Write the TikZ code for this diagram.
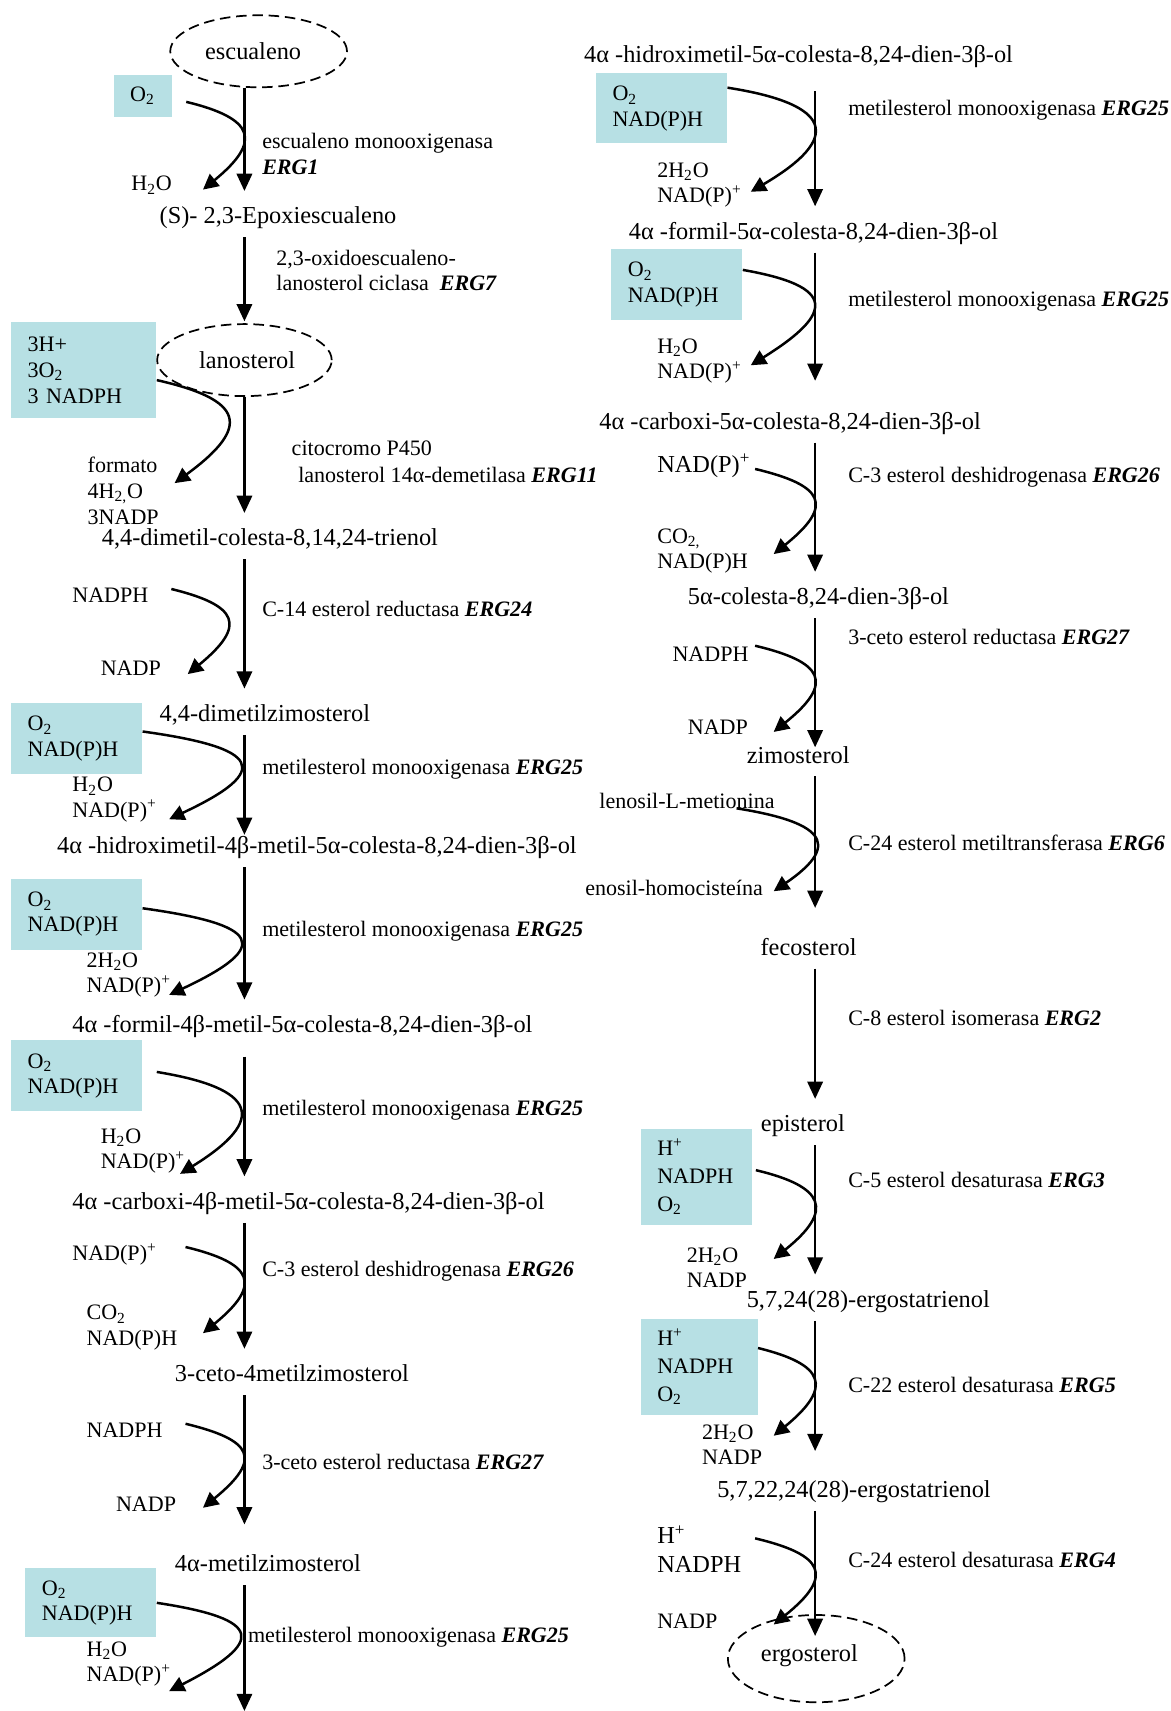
\documentclass[tikz,border=0pt]{standalone}
\usepackage{fontspec}
\setmainfont{Liberation Serif}
\usepackage{tikz}
\usetikzlibrary{shapes,arrows,arrows.meta}
\usetikzlibrary{calc,positioning}
\definecolor{boxteal}{RGB}{183,224,228}
\newcommand{\gene}[1]{\textbf{\textit{#1}}}
\tikzstyle{comp} = [anchor=west, inner xsep=0pt, inner ysep=4pt, yshift=-1.6pt,
    text height=9pt, text depth=2.8pt, font=\fontsize{12.7}{15}\selectfont]
\tikzstyle{term} = [ellipse, draw, dash pattern=on 5.5pt off 3pt, line width=0.9pt,
    inner sep=0pt, font=\fontsize{12.7}{15}\selectfont]
\tikzstyle{enz} = [anchor=west, inner sep=0pt, align=left, font=\fontsize{11.5}{13.2}\selectfont]
\tikzstyle{cof} = [anchor=west, inner sep=0pt, align=left, yshift=-1pt, font=\fontsize{11.5}{13.3}\selectfont]
\tikzstyle{cofbig} = [cof, font=\fontsize{12.7}{15.4}\selectfont]
\tikzstyle{cofbox} = [fill=boxteal, anchor=north west, inner xsep=0.3cm, inner ysep=0pt,
    align=left, font=\fontsize{11.5}{13.2}\selectfont]
\tikzstyle{line} = [draw, line width=1.3pt, -{Triangle[length=9pt,width=8pt]}, shorten >=4pt]
\tikzstyle{side} = [draw, line width=1.3pt, -{Triangle[length=8pt,width=8pt]}]

\begin{document}
\begin{tikzpicture}[x=0.02cm, y=-0.02cm]
        \useasboundingbox (0,0) rectangle (1073,1568);
        \coordinate (axL) at (224,0);
        \coordinate (axR) at (747,0);
        \coordinate (bottom) at (224,1568);
        % Left column
        \node [term, minimum width=3.24cm, minimum height=1.32cm] (esc) at (237,47) {\hspace*{-0.2cm}\raisebox{-0.04cm}{escualeno}};
        \node [cofbox, text width=0.46cm, minimum height=0.78cm] (o2a) at (104,68) {O\textsubscript{2}};
        \node [cof] (h2oa) at (120,168) {H\textsubscript{2}O};
        \node [enz] (erg1) at (240,141) {escualeno monooxigenasa\\\gene{ERG1}};
        \node [comp] (epox) at (146,197) {(S)- 2,3-Epoxiescualeno};
        \node [enz] (erg7) at (253,248) {2,3-oxidoescualeno-\\lanosterol ciclasa~~\gene{ERG7}};
        \node [term, minimum width=3.2cm, minimum height=1.32cm] (lano) at (224,330) {\hspace*{0.1cm}lanosterol};
        \node [cofbox, text width=2.06cm, minimum height=1.76cm, font=\fontsize{11.5}{13.8}\selectfont] (in2) at (10,295) {3H+\\3O\textsubscript{2}\\3 NADPH};
        \node [cof, font=\fontsize{11.5}{13.5}\selectfont] (out2) at (80,448) {formato\\4H\textsubscript{2,}O\\3NADP};
        \node [enz, font=\fontsize{11.5}{14.3}\selectfont] (erg11) at (267,423) {citocromo P450\\\hspace*{0.12cm}lanosterol 14α-demetilasa \gene{ERG11}};
        \node [comp] (trien) at (93,492) {4,4-dimetil-colesta-8,14,24-trienol};
        \node [cof] (in3) at (66,544) {NADPH};
        \node [cof] (out3) at (92,611) {NADP};
        \node [enz] (erg24) at (240,558) {C-14 esterol reductasa \gene{ERG24}};
        \node [comp] (dmz) at (146,653) {4,4-dimetilzimosterol};
        \node [cofbox, text width=1.8cm, minimum height=1.3cm] (in4) at (10,644) {O\textsubscript{2}\\NAD(P)H};
        \node [cof] (out4) at (66,731) {H\textsubscript{2}O\\NAD(P)\textsuperscript{+}};
        \node [enz] (erg25a) at (240,705) {metilesterol monooxigenasa \gene{ERG25}};
        \node [comp] (hm4b) at (52,774) {4α -hidroximetil-4β-metil-5α-colesta-8,24-dien-3β-ol};
        \node [cofbox, text width=1.8cm, minimum height=1.3cm] (in5) at (10,805) {O\textsubscript{2}\\NAD(P)H};
        \node [cof] (out5) at (79,892) {2H\textsubscript{2}O\\NAD(P)\textsuperscript{+}};
        \node [enz] (erg25b) at (240,853) {metilesterol monooxigenasa \gene{ERG25}};
        \node [comp] (fo4b) at (66,938) {4α -formil-4β-metil-5α-colesta-8,24-dien-3β-ol};
        \node [cofbox, text width=1.8cm, minimum height=1.3cm] (in6) at (10,953) {O\textsubscript{2}\\NAD(P)H};
        \node [cof] (out6) at (92,1053) {H\textsubscript{2}O\\NAD(P)\textsuperscript{+}};
        \node [enz] (erg25c) at (240,1017) {metilesterol monooxigenasa \gene{ERG25}};
        \node [comp] (ca4b) at (66,1100) {4α -carboxi-4β-metil-5α-colesta-8,24-dien-3β-ol};
        \node [cof] (in7) at (66,1148) {NAD(P)\textsuperscript{+}};
        \node [cof] (out7) at (79,1215) {CO\textsubscript{2}\\NAD(P)H};
        \node [enz] (erg26a) at (240,1165) {C-3 esterol deshidrogenasa \gene{ERG26}};
        \node [comp] (ceto) at (160,1258) {3-ceto-4metilzimosterol};
        \node [cof] (in8) at (79,1309) {NADPH};
        \node [cof] (out8) at (106,1377) {NADP};
        \node [enz] (erg27a) at (240,1340) {3-ceto esterol reductasa \gene{ERG27}};
        \node [comp] (mz) at (160,1432) {4α-metilzimosterol};
        \node [cofbox, text width=1.8cm, minimum height=1.26cm] (in9) at (23,1437) {O\textsubscript{2}\\NAD(P)H};
        \node [cof] (out9) at (79,1523) {H\textsubscript{2}O\\NAD(P)\textsuperscript{+}};
        \node [enz] (erg25d) at (227,1500) {metilesterol monooxigenasa \gene{ERG25}};
        % Right column
        \node [comp] (hm) at (535,49) {4α -hidroximetil-5α-colesta-8,24-dien-3β-ol};
        \node [cofbox, text width=1.8cm, minimum height=1.28cm] (inR1) at (546,67) {O\textsubscript{2}\\NAD(P)H};
        \node [cof] (outR1) at (602,168) {2H\textsubscript{2}O\\NAD(P)\textsuperscript{+}};
        \node [enz] (erg25e) at (777,101) {metilesterol monooxigenasa \gene{ERG25}};
        \node [comp] (fo) at (576,211) {4α -formil-5α-colesta-8,24-dien-3β-ol};
        \node [cofbox, text width=1.8cm, minimum height=1.3cm] (inR2) at (560,228) {O\textsubscript{2}\\NAD(P)H};
        \node [cof] (outR2) at (602,329) {H\textsubscript{2}O\\NAD(P)\textsuperscript{+}};
        \node [enz] (erg25f) at (777,276) {metilesterol monooxigenasa \gene{ERG25}};
        \node [comp] (ca) at (549,385) {4α -carboxi-5α-colesta-8,24-dien-3β-ol};
        \node [cofbig] (inR3) at (602,425) {NAD(P)\textsuperscript{+}};
        \node [cof] (outR3) at (602,503) {CO\textsubscript{2,}\\NAD(P)H};
        \node [enz] (erg26b) at (777,437) {C-3 esterol deshidrogenasa \gene{ERG26}};
        \node [comp] (col) at (630,546) {5α-colesta-8,24-dien-3β-ol};
        \node [cof] (inR4) at (616,598) {NADPH};
        \node [cof] (outR4) at (630,665) {NADP};
        \node [enz] (erg27b) at (777,584) {3-ceto esterol reductasa \gene{ERG27}};
        \node [comp] (zimo) at (684,691) {zimosterol};
        \node [cof] (inR5) at (549,732) {lenosil-L-metionina};
        \node [cof] (outR5) at (536,812) {enosil-homocisteína};
        \node [enz] (erg6) at (777,772) {C-24 esterol metiltransferasa \gene{ERG6}};
        \node [comp, anchor=center] (feco) at (741,867) {fecosterol};
        \node [enz] (erg2) at (777,933) {C-8 esterol isomerasa \gene{ERG2}};
        \node [comp] (epi) at (697,1029) {episterol};
        \node [cofbox, text width=1.44cm, minimum height=1.76cm, font=\fontsize{11.5}{14.5}\selectfont] (inR6) at (587,1034) {H\textsuperscript{+}\\NADPH\\O\textsubscript{2}};
        \node [cof] (outR6) at (629,1160) {2H\textsubscript{2}O\\NADP};
        \node [enz] (erg3) at (777,1081) {C-5 esterol desaturasa \gene{ERG3}};
        \node [comp] (e5724) at (684,1190) {5,7,24(28)-ergostatrienol};
        \node [cofbox, text width=1.54cm, minimum height=1.76cm, font=\fontsize{11.5}{14.5}\selectfont] (inR7) at (587,1208) {H\textsuperscript{+}\\NADPH\\O\textsubscript{2}};
        \node [cof] (outR7) at (643,1322) {2H\textsubscript{2}O\\NADP};
        \node [enz] (erg5) at (777,1269) {C-22 esterol desaturasa \gene{ERG5}};
        \node [comp] (e572224) at (657,1364) {5,7,22,24(28)-ergostatrienol};
        \node [cofbig] (inR8) at (602,1418) {H\textsuperscript{+}\\NADPH};
        \node [cof] (outR8) at (602,1484) {NADP};
        \node [enz] (erg4) at (777,1430) {C-24 esterol desaturasa \gene{ERG4}};
        \node [term, minimum width=3.24cm, minimum height=1.6cm] (ergo) at (748,1520) {\hspace*{-0.25cm}\raisebox{0.2cm}{ergosterol}};
        % Main arrows
        \path [line] (esc.south -| axL) -- (epox.north -| axL);
        \path [line, shorten >=1pt] (epox.south -| axL) -- (lano.north);
        \path [line] (lano.south) -- (trien.north -| axL);
        \path [line] (trien.south -| axL) -- (dmz.north -| axL);
        \path [line, shorten >=-3.4pt] (dmz.south -| axL) -- (hm4b.north -| axL);
        \path [line] (hm4b.south -| axL) -- (fo4b.north -| axL);
        \path [line, shorten <=5.5pt] (fo4b.south -| axL) -- (ca4b.north -| axL);
        \path [line] (ca4b.south -| axL) -- (ceto.north -| axL);
        \path [line, shorten >=11.4pt] (ceto.south -| axL) -- (mz.north -| axL);
        \path [line, shorten >=0pt] (mz.south -| axL) -- (bottom);
        \path [line, shorten <=8pt] (hm.south -| axR) -- (fo.north -| axR);
        \path [line, shorten >=12pt] (fo.south -| axR) -- (ca.north -| axR);
        \path [line] (ca.south -| axR) -- (col.north -| axR);
        \path [line, shorten >=-5pt] (col.south -| axR) -- (zimo.north -| axR);
        \path [line, shorten >=11.4pt] (zimo.south -| axR) -- (feco.north -| axR);
        \path [line] (feco.south -| axR) -- (epi.north -| axR);
        \path [line] (epi.south -| axR) -- (e5724.north -| axR);
        \path [line, shorten >=11pt] (e5724.south -| axR) -- (e572224.north -| axR);
        \path [line, shorten >=-11.4pt] (e572224.south -| axR) -- (ergo.north -| axR);
        % Cofactor arrows
        \path [side] ($(o2a.east)+(13,5.5)$) .. controls +(62,15) and +(55,-45) .. ($(h2oa.east -| axL)+(-38,4)$);
        \path [side] ($(in2.east)+(0,9)$) .. controls +(80,18) and +(71,-52) .. ($(out2.east -| axL)+(-64,-7)$);
        \path [side] ($(in3.east -| axL)+(-67,-6)$) .. controls +(61,15) and +(55,-45) .. ($(out3.east -| axL)+(-52,5)$);
        \path [side] ($(in4.east)+(0,-6.5)$) .. controls +(108,15) and +(96,-45) .. ($(out4.east -| axL)+(-69,18)$);
        \path [side] ($(in5.east)+(0,-5.5)$) .. controls +(108,15) and +(96,-45) .. ($(out5.east -| axL)+(-69,18)$);
        \path [side] ($(in6.east)+(13,-3.5)$) .. controls +(92,15) and +(81,-50) .. ($(out6.east -| axL)+(-59,21)$);
        \path [side] ($(in7.east -| axL)+(-54,-7)$) .. controls +(62,15) and +(55,-45) .. ($(out7.east -| axL)+(-38,5)$);
        \path [side] ($(in8.east -| axL)+(-54,-6)$) .. controls +(62,15) and +(55,-45) .. ($(out8.east -| axL)+(-38,3)$);
        \path [side] (in9.east) .. controls +(99,15) and +(88,-45) .. ($(out9.east -| axL)+(-69,25)$);
        \path [side] ($(inR1.east)+(0,-19)$) .. controls +(96,15) and +(85,-50) .. ($(outR1.east -| axR)+(-59,6)$);
        \path [side] ($(inR2.east)+(0,-13.5)$) .. controls +(86,15) and +(77,-48) .. ($(outR2.east -| axR)+(-59,4)$);
        \path [side] ($(inR3.east -| axR)+(-55,3)$) .. controls +(63,15) and +(56,-45) .. ($(outR3.east -| axR)+(-38,3)$);
        \path [side] ($(inR4.east -| axR)+(-55,-8)$) .. controls +(63,15) and +(56,-45) .. ($(outR4.east -| axR)+(-38,4)$);
        \path [side] ($(inR5.east -| axR)+(-72,7)$) .. controls +(75,12) and +(66,-45) .. ($(outR5.east -| axR)+(-38,3)$);
        \path [side] ($(inR6.east)+(3,-6)$) .. controls +(63,15) and +(56,-45) .. ($(outR6.east -| axR)+(-38,-8)$);
        \path [side] ($(inR7.east)+(0,-17)$) .. controls +(61,15) and +(55,-45) .. ($(outR7.east -| axR)+(-38,-8)$);
        \path [side] ($(inR8.east -| axR)+(-55,-10)$) .. controls +(63,15) and +(56,-45) .. ($(outR8.east -| axR)+(-38,3)$);
    \end{tikzpicture}
\end{document}
